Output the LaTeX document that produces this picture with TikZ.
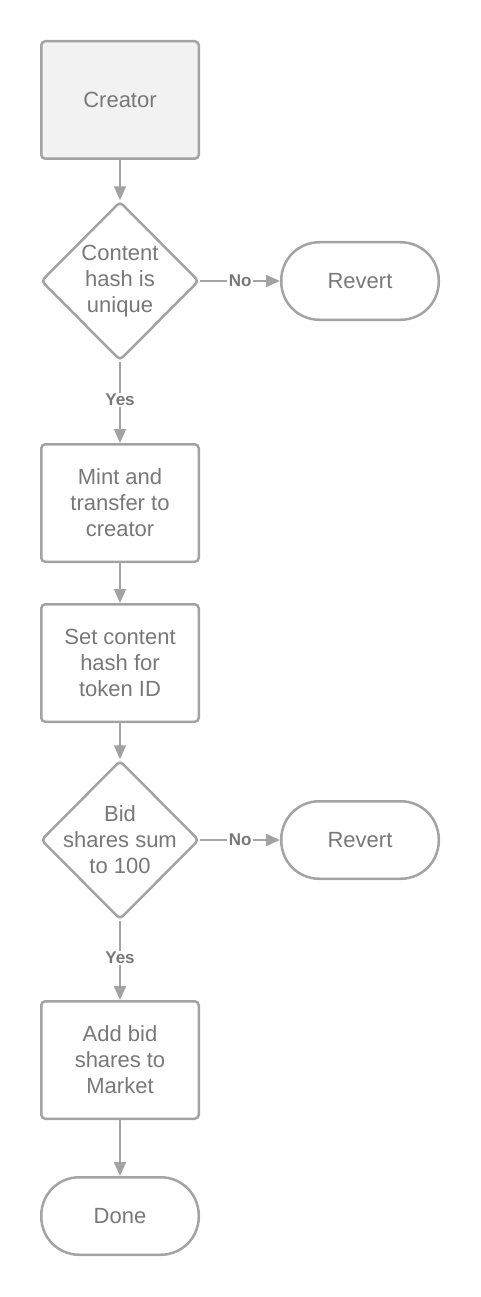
\documentclass[tikz,border=0pt]{standalone}
\usepackage{fontspec}
\setmainfont{Liberation Sans}
\usetikzlibrary{shapes.geometric,arrows.meta}
\definecolor{txt}{HTML}{787878}
\definecolor{ln}{HTML}{A3A3A3}
\definecolor{boxfill}{HTML}{F2F2F2}
\begin{document}
\begin{tikzpicture}[x=1pt,y=-1pt,
  base/.style={draw=ln, line width=2.5pt, text=txt, font=\fontsize{22}{26}\selectfont, align=center, inner sep=0pt},
  procbox/.style={base, rectangle, rounded corners=4pt, minimum width=157.5pt, minimum height=117.5pt, fill=white},
  termbox/.style={base, rectangle, rounded corners=38pt, minimum width=157.5pt, minimum height=77.5pt, fill=white},
  decbox/.style={base, diamond, rounded corners=4pt, minimum width=158pt, minimum height=159pt, fill=white},
  dectext/.style={text=txt, font=\fontsize{22}{26}\selectfont, align=center, inner sep=0pt},
  conn/.style={draw=ln, line width=2pt, -{Triangle[length=14pt,width=12pt]}},
  lbl/.style={fill=white, text=txt, font=\fontsize{17}{20}\selectfont\bfseries, inner sep=1.5pt}
]
\useasboundingbox (0,0) rectangle (480,1297);
\node[procbox, fill=boxfill] (creator) at (120,100) {Creator};
\node[decbox] (d1) at (120,281) {};
\node[dectext] (d1t) at (d1.center) {Content\\hash is\\unique};
\node[termbox] (rev1) at (360,281) {Revert};
\node[procbox] (mint) at (120,503) {Mint and\\transfer to\\creator};
\node[procbox] (setc) at (120,663) {Set content\\hash for\\token ID};
\node[decbox] (d2) at (120,840) {};
\node[dectext] (d2t) at (d2.center) {Bid\\shares sum\\to 100};
\node[termbox] (rev2) at (360,840) {Revert};
\node[procbox] (addb) at (120,1060) {Add bid\\shares to\\Market};
\node[termbox] (done) at (120,1216) {Done};

\draw[conn] (creator) -- (d1);
\draw[conn] (d1.east) -- node[lbl]{No} (rev1.west);
\draw[conn] (d1.south) -- node[lbl, pos=0.47]{Yes} (mint.north);
\draw[conn] (mint) -- (setc);
\draw[conn] (setc) -- (d2);
\draw[conn] (d2.east) -- node[lbl]{No} (rev2.west);
\draw[conn] (d2.south) -- node[lbl, pos=0.47]{Yes} (addb.north);
\draw[conn] (addb) -- (done);
\end{tikzpicture}
\end{document}
